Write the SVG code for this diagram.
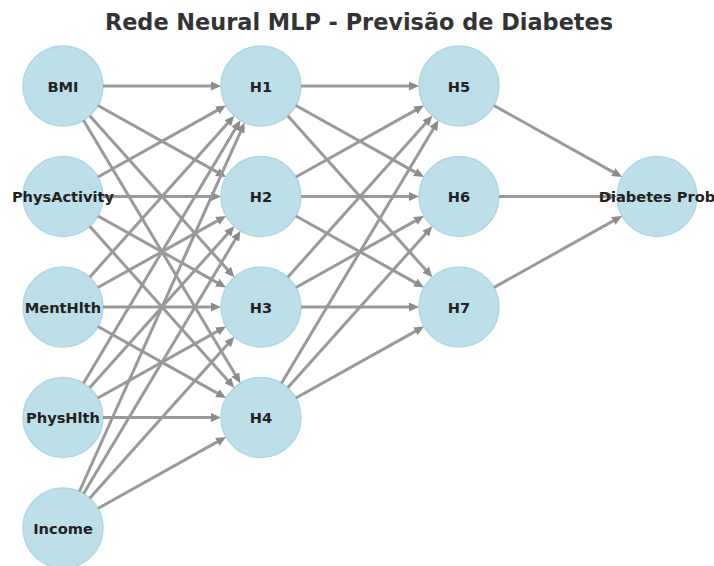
<svg xmlns="http://www.w3.org/2000/svg" width="714" height="566" viewBox="0 0 714 566">
<style>
.node{fill:#bcdfea;stroke:#aed8e6;stroke-width:1.5}
.lbl{font-family:"DejaVu Sans",sans-serif;font-weight:bold;font-size:14.6px;fill:#222;text-anchor:middle;dominant-baseline:central}
.title{font-family:"DejaVu Sans",sans-serif;font-weight:bold;font-size:22.4px;fill:#333;text-anchor:middle}
#edges line{stroke:#999;stroke-width:3;marker-end:url(#ah)}
</style>
<defs>
<marker id="ah" markerUnits="userSpaceOnUse" markerWidth="10" markerHeight="9" refX="5" refY="4.5" orient="auto" viewBox="0 0 10 9">
<path d="M0,0 L10,4.5 L0,9 z" fill="#8c8c8c"/>
</marker>
</defs>
<rect width="714" height="566" fill="#fff"/>
<text class="title" x="359" y="30">Rede Neural MLP - Previsão de Diabetes</text>
<g id="nodes-circles">
<g id="n-BMI"><circle class="node" cx="63" cy="86" r="40"/></g>
<g id="n-PhysActivity"><circle class="node" cx="63" cy="196.5" r="40"/></g>
<g id="n-MentHlth"><circle class="node" cx="63" cy="307" r="40"/></g>
<g id="n-PhysHlth"><circle class="node" cx="63" cy="417.5" r="40"/></g>
<g id="n-Income"><circle class="node" cx="63" cy="528" r="40"/></g>
<g id="n-H1"><circle class="node" cx="261" cy="86" r="40"/></g>
<g id="n-H2"><circle class="node" cx="261" cy="196.5" r="40"/></g>
<g id="n-H3"><circle class="node" cx="261" cy="307" r="40"/></g>
<g id="n-H4"><circle class="node" cx="261" cy="417.5" r="40"/></g>
<g id="n-H5"><circle class="node" cx="459" cy="86" r="40"/></g>
<g id="n-H6"><circle class="node" cx="459" cy="196.5" r="40"/></g>
<g id="n-H7"><circle class="node" cx="459" cy="307" r="40"/></g>
<g id="n-Out"><circle class="node" cx="657" cy="196.5" r="40"/></g>
</g>
<g id="edges">
<line x1="103" y1="86" x2="216" y2="86"/>
<line x1="97.9" y1="105.5" x2="221.7" y2="174.6"/>
<line x1="89.7" y1="115.8" x2="231" y2="273.5"/>
<line x1="83.5" y1="120.3" x2="237.9" y2="378.9"/>
<line x1="97.9" y1="177" x2="221.7" y2="107.9"/>
<line x1="103" y1="196.5" x2="216" y2="196.5"/>
<line x1="97.9" y1="216" x2="221.7" y2="285.1"/>
<line x1="89.7" y1="226.3" x2="231" y2="384"/>
<line x1="89.7" y1="277.2" x2="231" y2="119.5"/>
<line x1="97.9" y1="287.5" x2="221.7" y2="218.4"/>
<line x1="103" y1="307" x2="216" y2="307"/>
<line x1="97.9" y1="326.5" x2="221.7" y2="395.6"/>
<line x1="83.5" y1="383.2" x2="237.9" y2="124.6"/>
<line x1="89.7" y1="387.7" x2="231" y2="230"/>
<line x1="97.9" y1="398" x2="221.7" y2="328.9"/>
<line x1="103" y1="417.5" x2="216" y2="417.5"/>
<line x1="79.4" y1="491.5" x2="242.6" y2="127.1"/>
<line x1="83.5" y1="493.7" x2="237.9" y2="235.1"/>
<line x1="89.7" y1="498.2" x2="231" y2="340.5"/>
<line x1="97.9" y1="508.5" x2="221.7" y2="439.4"/>
<line x1="301" y1="86" x2="414" y2="86"/>
<line x1="295.9" y1="105.5" x2="419.7" y2="174.6"/>
<line x1="287.7" y1="115.8" x2="429" y2="273.5"/>
<line x1="295.9" y1="177" x2="419.7" y2="107.9"/>
<line x1="301" y1="196.5" x2="414" y2="196.5"/>
<line x1="295.9" y1="216" x2="419.7" y2="285.1"/>
<line x1="287.7" y1="277.2" x2="429" y2="119.5"/>
<line x1="295.9" y1="287.5" x2="419.7" y2="218.4"/>
<line x1="301" y1="307" x2="414" y2="307"/>
<line x1="281.5" y1="383.2" x2="435.9" y2="124.6"/>
<line x1="287.7" y1="387.7" x2="429" y2="230"/>
<line x1="295.9" y1="398" x2="419.7" y2="328.9"/>
<line x1="493.9" y1="105.5" x2="617.7" y2="174.6"/>
<line x1="499" y1="196.5" x2="612" y2="196.5"/>
<line x1="493.9" y1="287.5" x2="617.7" y2="218.4"/>
</g>
<g id="labels">
<text class="lbl" x="63" y="86">BMI</text>
<text class="lbl" x="63" y="196.5">PhysActivity</text>
<text class="lbl" x="63" y="307">MentHlth</text>
<text class="lbl" x="63" y="417.5">PhysHlth</text>
<text class="lbl" x="63" y="528">Income</text>
<text class="lbl" x="261" y="86">H1</text>
<text class="lbl" x="261" y="196.5">H2</text>
<text class="lbl" x="261" y="307">H3</text>
<text class="lbl" x="261" y="417.5">H4</text>
<text class="lbl" x="459" y="86">H5</text>
<text class="lbl" x="459" y="196.5">H6</text>
<text class="lbl" x="459" y="307">H7</text>
<text class="lbl" x="657" y="196.5">Diabetes Prob</text>
</g>
</svg>
